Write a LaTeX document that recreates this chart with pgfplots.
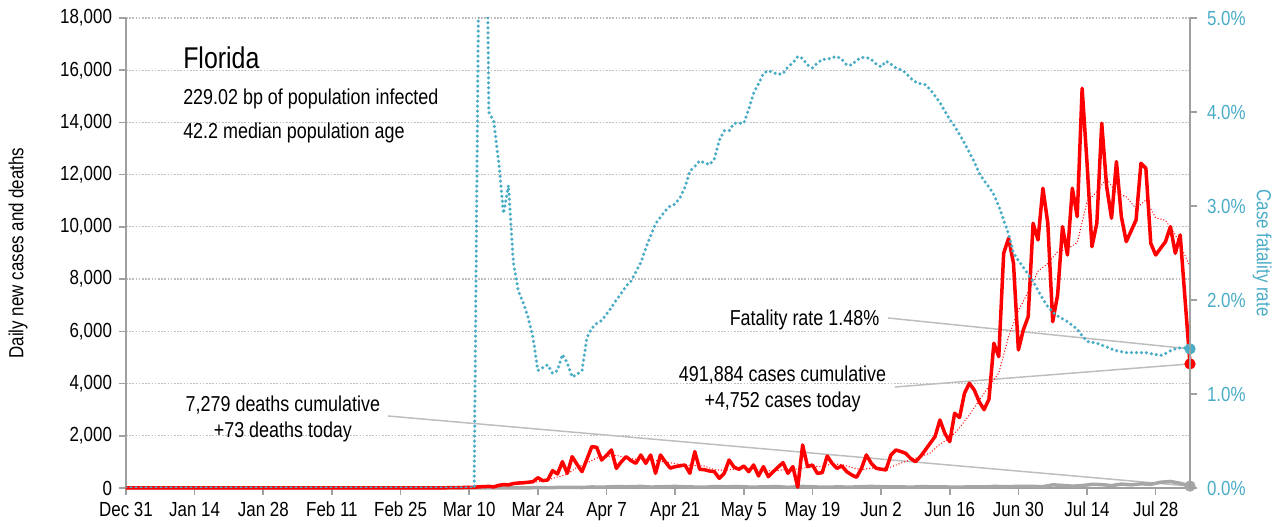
\documentclass[border=0pt]{standalone}
\usepackage{fontspec}
\setmainfont{Liberation Sans}[FakeStretch=0.83]
\usepackage{pgfplots}
\pgfplotsset{compat=1.18}

\definecolor{cfrblue}{RGB}{75,172,198}
\definecolor{axgray}{RGB}{160,160,160}
\definecolor{dgray}{RGB}{166,166,166}
\definecolor{lgray}{RGB}{190,190,190}

\pgfplotsset{
  base/.style={
    width=532pt, height=235pt, scale only axis,
    xmin=0, xmax=217,
    font=\fontsize{10.2}{12}\selectfont,
    tick align=outside, major tick length=3.5pt,
    tick style={axgray, line width=0.8pt},
    axis line style={axgray, line width=0.9pt},
    /pgf/number format/assume math mode=true,
  },
}

\begin{document}
\begin{tikzpicture}
\begin{axis}[base, name=ax,
  ymin=0, ymax=18000,
  axis x line*=bottom, axis y line*=left,
  ytick={0,2000,...,18000},
  scaled y ticks=false,
  /pgf/number format/1000 sep={,},
  ymajorgrids,
  grid style={lgray, line width=0.6pt, dash pattern=on 0.8pt off 0.8pt},
  xtick={0,14,...,210},
  xticklabels={Dec 31,Jan 14,Jan 28,Feb 11,Feb 25,Mar 10,Mar 24,Apr 7,Apr 21,May 5,May 19,Jun 2,Jun 16,Jun 30,Jul 14,Jul 28},
  ylabel={Daily new cases and deaths},
  ylabel style={at={(axis description cs:-0.1015,0.5)}, anchor=center},
  clip=false,
]
% leader lines
\draw[lgray, line width=0.75pt] (axis cs:155.4,6511) -- (axis cs:217,5328);
\draw[lgray, line width=0.75pt] (axis cs:156.8,3868) -- (axis cs:217,4752);
\draw[lgray, line width=0.75pt] (axis cs:53.4,2758) -- (axis cs:217,73);

% daily deaths
\addplot[dgray, line width=1.75pt, line join=round] coordinates {
(0,0) (64,0) (70,1) (75,3) (80,8) (85,10) (88,20) (90,25) (93,18) (95,40) (97,30)
(100,55) (102,45) (105,60) (107,35) (110,50) (112,60) (115,40) (118,30) (120,55)
(122,45) (125,50) (128,30) (130,45) (133,50) (135,25) (138,60) (140,45) (142,30)
(145,40) (148,35) (150,50) (152,60) (155,40) (158,45) (160,30) (162,50) (165,45)
(167,40) (170,30) (172,45) (175,40) (177,60) (180,50) (182,65) (185,60) (187,50)
(189,120) (191,100) (193,70) (195,90) (197,140) (199,130) (201,90) (203,150)
(205,120) (207,160) (209,140) (211,220) (213,250) (215,180) (216,130) (217,73)
};

% 7-day average of cases
\addplot[red, line width=0.7pt, line cap=round, dash pattern=on 0pt off 1.5pt] coordinates {
(0,0) (60,0) (65,5) (70,15) (75,50) (78,100) (80,150) (82,190) (85,260) (88,420)
(90,520) (92,800) (94,950) (96,1150) (98,1200) (100,1250) (102,1150) (104,1100)
(106,1120) (108,1050) (110,1000) (112,930) (114,880) (116,860) (118,840) (120,700)
(122,680) (124,720) (126,740) (128,720) (130,690) (132,640) (134,700) (136,700)
(138,760) (140,820) (142,830) (144,920) (146,900) (148,780) (150,700) (152,760)
(154,750) (156,800) (158,950) (160,1080) (162,1200) (164,1340) (166,1680)
(168,1900) (170,2300) (172,2800) (174,3350) (176,3900) (178,4400) (180,5800)
(182,6800) (184,7500) (186,8300) (188,8600) (190,9050) (192,9150) (194,9400)
(196,10950) (198,11350) (200,11850) (202,11300) (204,11150) (206,10700)
(208,11030) (210,10350) (212,10250) (214,9700) (216,8900) (217,8450)
};

% daily new cases
\addplot[red, line width=1.75pt, line join=round] coordinates {
(0,0) (60,0) (61,2) (62,1) (63,4) (64,6) (65,6) (66,14) (67,10) (68,15) (69,20)
(70,25) (71,27) (72,45) (73,50) (74,65) (75,40) (76,100) (77,130) (78,120)
(79,170) (80,190) (81,200) (82,220) (83,240) (84,395) (85,280) (86,306) (87,663)
(88,536) (89,1008) (90,562) (91,1200) (92,900) (93,625) (94,1100) (95,1583)
(96,1558) (97,1072) (98,1250) (99,1455) (100,753) (101,1000) (102,1200) (103,1050)
(104,945) (105,1264) (106,945) (107,1264) (108,562) (109,1264) (110,1000) (111,760)
(112,817) (113,850) (114,881) (115,562) (116,1392) (117,715) (118,700) (119,650)
(120,625) (121,370) (122,562) (123,1072) (124,800) (125,715) (126,843) (127,625)
(128,881) (129,460) (130,817) (131,433) (132,625) (133,800) (134,970) (135,562)
(136,817) (137,30) (138,1647) (139,817) (140,881) (141,562) (142,587) (143,1225)
(144,945) (145,753) (146,843) (147,625) (148,500) (149,409) (150,753) (151,1264)
(152,945) (153,753) (154,720) (155,690) (156,1264) (157,1455) (158,1400)
(159,1328) (160,1137) (161,1008) (162,1200) (163,1450) (164,1711) (165,1966)
(166,2604) (167,2094) (168,1774) (169,2860) (170,2700) (171,3627) (172,4010)
(173,3753) (174,3305) (175,3000) (176,3400) (177,5542) (178,5029) (179,8989)
(180,9563) (181,8606) (182,5285) (183,6051) (184,6561) (185,10138) (186,9500)
(187,11479) (188,10138) (189,6370) (190,7392) (191,10010) (192,8924) (193,11479)
(194,10393) (195,15310) (196,12436) (197,9243) (198,10138) (199,13968)
(200,11541) (201,10329) (202,12500) (203,10393) (204,9433) (205,9850)
(206,10265) (207,12436) (208,12245) (209,9370) (210,8924) (211,9180) (212,9433)
(213,10010) (214,8989) (215,9690) (216,7200) (217,4752)
};

% end markers
\addplot[only marks, mark=*, mark size=2.6pt, dgray] coordinates {(217,73)};
\addplot[only marks, mark=*, mark size=2.6pt, red] coordinates {(217,4752)};
\addplot[only marks, mark=*, mark size=2.6pt, cfrblue] coordinates {(217,5328)};

% text
\node[anchor=west, inner sep=0pt, font=\fontsize{15}{16}\selectfont] at (axis cs:11.6,16469) {Florida};
\node[anchor=west, inner sep=0pt, font=\fontsize{10.8}{13}\selectfont] at (axis cs:11.6,14900) {229.02 bp of population infected};
\node[anchor=west, inner sep=0pt, font=\fontsize{10.8}{13}\selectfont] at (axis cs:11.6,13597) {42.2 median population age};
\node[anchor=east, inner sep=0pt, font=\fontsize{10.8}{13}\selectfont] at (axis cs:153.7,6434) {Fatality rate 1.48\%};
\node[align=center, inner sep=0pt, font=\fontsize{10.8}{13}\selectfont] at (axis cs:133.9,3792) {491,884 cases cumulative\\+4,752 cases today};
\node[align=center, inner sep=0pt, font=\fontsize{10.8}{13}\selectfont] at (axis cs:32,2662) {7,279 deaths cumulative\\+73 deaths today};
\end{axis}

\begin{axis}[base,
  ymin=0, ymax=5,
  axis y line*=right, axis x line=none,
  ytick={0,1,...,5},
  yticklabel={\pgfmathprintnumber[fixed,fixed zerofill,precision=1]{\tick}\%},
  yticklabel style={cfrblue, xshift=1.5pt},
  ylabel={Case fatality rate},
  ylabel style={cfrblue, at={(axis description cs:1.0677,0.5)}, anchor=center, rotate=180},
]
\addplot[cfrblue, line width=1.75pt, line cap=round, dash pattern=on 0pt off 2.5pt] coordinates {
(0,0) (71,0) (72,5.8) (73,9) (74,4.0) (75,3.9) (76,3.47) (77,2.92) (78,3.22)
(79,2.4) (80,2.1) (81,1.97) (82,1.82) (83,1.6) (84,1.25) (85,1.28) (86,1.31)
(87,1.22) (88,1.25) (89,1.42) (90,1.33) (91,1.18) (92,1.21) (93,1.25) (94,1.6)
(95,1.7) (96,1.75) (97,1.78) (98,1.85) (99,1.92) (100,2.0) (101,2.07) (102,2.15)
(103,2.2) (104,2.3) (105,2.4) (106,2.55) (107,2.68) (108,2.81) (109,2.88)
(110,2.95) (111,3.0) (112,3.02) (113,3.09) (114,3.2) (115,3.37) (116,3.42)
(117,3.48) (118,3.46) (119,3.44) (120,3.5) (121,3.7) (122,3.8) (123,3.8)
(124,3.88) (125,3.88) (126,3.88) (127,4.03) (128,4.2) (129,4.3) (130,4.41)
(131,4.44) (132,4.42) (133,4.40) (134,4.41) (135,4.48) (136,4.52) (137,4.59)
(138,4.57) (139,4.50) (140,4.47) (141,4.52) (142,4.56) (143,4.56) (144,4.58)
(145,4.59) (146,4.56) (147,4.5) (148,4.5) (149,4.55) (150,4.58) (151,4.58)
(152,4.56) (153,4.51) (154,4.48) (155,4.54) (156,4.51) (157,4.47) (158,4.45)
(159,4.42) (160,4.36) (161,4.32) (162,4.30) (163,4.29) (164,4.24) (165,4.17)
(166,4.10) (167,4.01) (168,3.92) (169,3.85) (170,3.76) (171,3.67) (172,3.57)
(173,3.47) (174,3.35) (175,3.27) (176,3.20) (177,3.12) (178,3.00) (179,2.85)
(180,2.70) (181,2.5) (182,2.42) (183,2.35) (184,2.27) (185,2.2) (186,2.1)
(187,2.01) (188,1.93) (189,1.87) (190,1.83) (191,1.80) (192,1.77) (193,1.73)
(194,1.69) (195,1.62) (196,1.56) (197,1.55) (198,1.54) (199,1.52) (200,1.50)
(201,1.48) (202,1.46) (203,1.45) (204,1.44) (205,1.44) (206,1.44) (207,1.44)
(208,1.44) (209,1.43) (210,1.42) (211,1.41) (212,1.43) (213,1.46) (214,1.48)
(215,1.49) (216,1.49) (217,1.48)
};
\end{axis}

\pgfresetboundingbox
\path ([shift={(-63pt,-19.5pt)}]ax.south west) rectangle ([shift={(45.5pt,9pt)}]ax.north east);
\end{tikzpicture}
\end{document}
